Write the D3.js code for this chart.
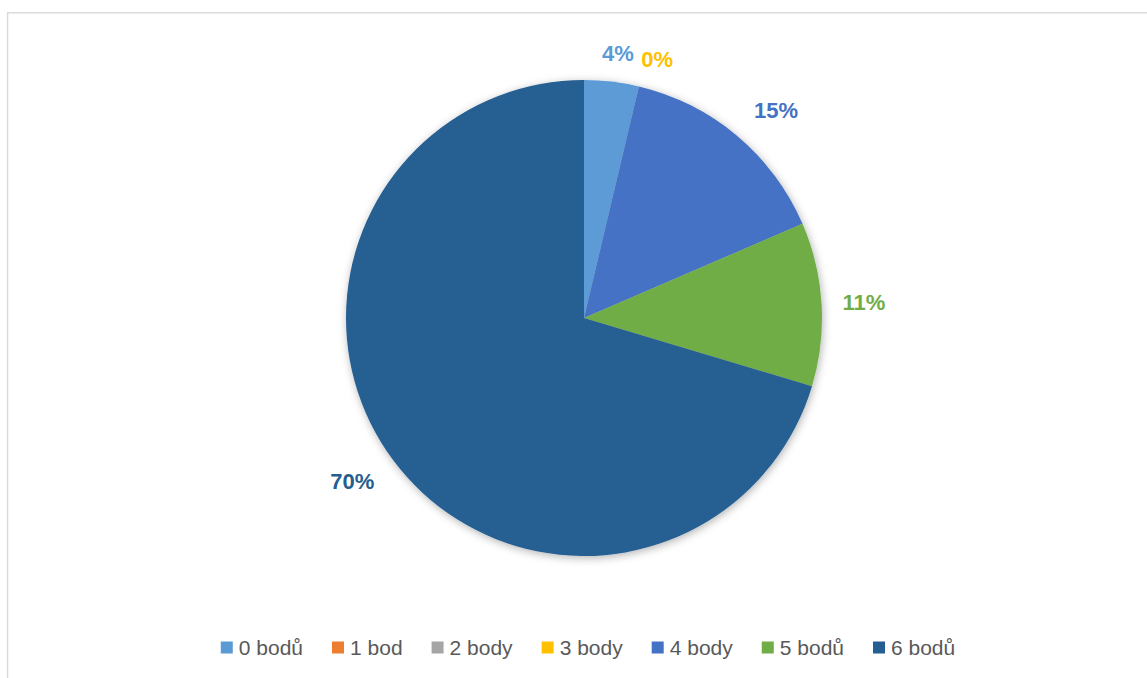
<!DOCTYPE html>
<html>
<head>
<meta charset="utf-8">
<script src="https://cdn.jsdelivr.net/npm/d3@7/dist/d3.min.js"></script>
<style>
  html, body { margin: 0; padding: 0; background: #ffffff; }
  svg { display: block; }
</style>
</head>
<body>
<svg id="chart" width="1147" height="678"></svg>
<script>
// ---- Data ----
const categories = ["0 bodů", "1 bod", "2 body", "3 body", "4 body", "5 bodů", "6 bodů"];
const counts     = [1, 0, 0, 0, 4, 3, 19];
const colors     = ["#5B9BD5", "#ED7D31", "#A5A5A5", "#FFC000", "#4472C4", "#70AD47", "#255E91"];

// ---- Layout ----
const W = 1147, H = 678;
const cx = 584, cy = 318, R = 238;
const svg = d3.select("#chart");

// chart area border
svg.append("rect")
  .attr("x", 7.6).attr("y", 12.8)
  .attr("width", 1160).attr("height", 690)
  .attr("fill", "none")
  .attr("stroke", "#d9d9d9")
  .attr("stroke-width", 1.4);

// shadow filter
const defs = svg.append("defs");
const f = defs.append("filter").attr("id", "shadow")
  .attr("x", "-10%").attr("y", "-10%").attr("width", "120%").attr("height", "120%");
f.append("feDropShadow")
  .attr("dx", 1).attr("dy", 2).attr("stdDeviation", 4)
  .attr("flood-color", "#000").attr("flood-opacity", 0.3);

const total = d3.sum(counts);
const data = categories.map((c, i) => ({ cat: c, value: counts[i], color: colors[i], i }));

const pie = d3.pie().sort(null).value(d => d.value).startAngle(0).endAngle(2 * Math.PI);
const arcs = pie(data);
const arc = d3.arc().innerRadius(0).outerRadius(R);

const g = svg.append("g").attr("transform", `translate(${cx},${cy})`);
g.append("g").attr("filter", "url(#shadow)")
  .selectAll("path")
  .data(arcs.filter(a => a.data.value > 0))
  .join("path")
  .attr("d", arc)
  .attr("fill", a => a.data.color);

// ---- Data labels (outside end) ----
const pctFmt = v => Math.round(v / total * 100) + "%";
const clamp = v => Math.max(-1, Math.min(1, v));
const labelG = svg.append("g")
  .style("font-family", "'Liberation Sans', Arial, sans-serif")
  .style("font-weight", "bold")
  .style("font-size", "22px");

// show only the last label in a run of consecutive zero-value slices
const shown = arcs.filter((a, k) => {
  if (a.data.value > 0) return true;
  const next = arcs[k + 1];
  return !(next && next.data.value === 0);
});

const placed = [];
shown.forEach(a => {
  const t = labelG.append("text")
    .attr("fill", a.data.color)
    .attr("text-anchor", "middle")
    .attr("dominant-baseline", "central")
    .text(pctFmt(a.data.value));
  const tw = t.node().getComputedTextLength();
  const hw = tw / 2, hh = 11;
  let ang = (a.startAngle + a.endAngle) / 2;
  const pos = (ang) => {
    const ux = Math.sin(ang), uy = -Math.cos(ang);
    return {
      x: cx + ux * (R + 11) + (hw + 10) * clamp(1.7 * ux),
      y: cy + uy * (R + 11) + 17 * clamp(1.5 * uy)
    };
  };
  let p = pos(ang);
  const overlaps = (p) => placed.some(q =>
    Math.abs(p.x - q.x) < hw + q.hw + 7 && Math.abs(p.y - q.y) < hh + q.hh);
  let guard = 0;
  while (overlaps(p) && guard < 200) { ang += 0.005; p = pos(ang); guard++; }
  placed.push({ x: p.x, y: p.y, hw, hh });
  t.attr("x", p.x).attr("y", p.y);
});

// ---- Legend ----
const legend = svg.append("g")
  .style("font-family", "'Liberation Sans', Arial, sans-serif")
  .style("font-size", "21px");
const sq = 12, gapTxt = 6, gapItem = 29;
let x = 0;
const items = data.map(d => {
  const it = legend.append("g");
  it.append("rect").attr("width", sq).attr("height", sq).attr("y", -sq / 2).attr("fill", d.color);
  const t = it.append("text").attr("x", sq + gapTxt).attr("y", 0).attr("dy", "0.36em")
    .attr("fill", "#595959").text(d.cat);
  const w = sq + gapTxt + t.node().getComputedTextLength();
  it.attr("transform", `translate(${x},0)`);
  x += w + gapItem;
  return it;
});
const legendWidth = x - gapItem;
legend.attr("transform", `translate(${588 - legendWidth / 2},${647.5})`);
</script>
</body>
</html>
